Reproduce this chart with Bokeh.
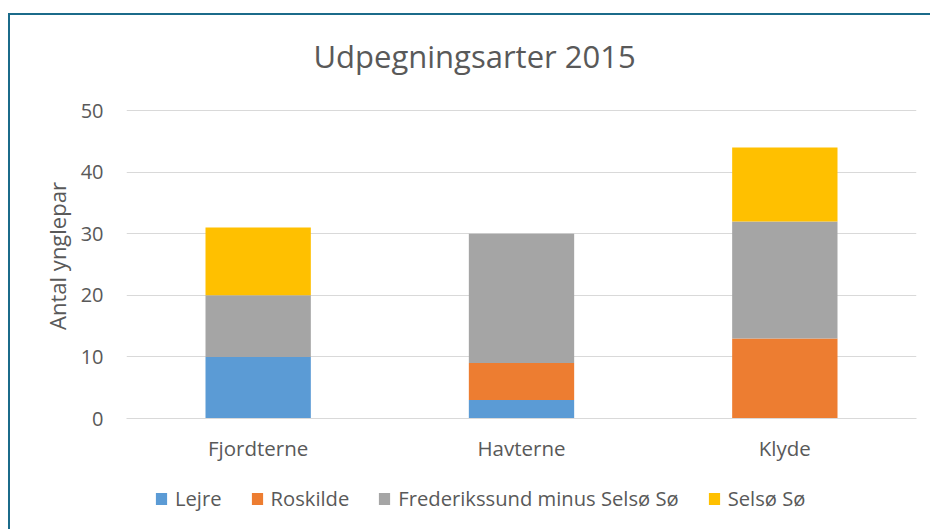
from bokeh.plotting import figure
from bokeh.layouts import column
from bokeh.models import ColumnDataSource, Legend, LegendItem, Range1d, FactorRange
from bokeh.embed import file_html
from bokeh.resources import INLINE

categories = ["Fjordterne", "Havterne", "Klyde"]
lejre = [10, 3, 0]
roskilde = [0, 6, 13]
frederikssund = [10, 21, 19]
selso = [11, 0, 12]
series_names = ["Lejre", "Roskilde", "Frederikssund minus Selsø Sø", "Selsø Sø"]
y_ticks = [0, 10, 20, 30, 40, 50]

colors = ["#5B9BD5", "#ED7D31", "#A5A5A5", "#FFC000"]
keys = ["lejre", "roskilde", "frederikssund", "selso"]
src = ColumnDataSource(dict(cat=categories, lejre=lejre, roskilde=roskilde,
                            frederikssund=frederikssund, selso=selso))

FONT = "Open Sans"
TXT = "#595959"
FRAME = "#1B6B8A"

# main chart
p = figure(x_range=categories, y_range=Range1d(0, 52.76), width=922, height=455,
           output_backend="svg", toolbar_location=None,
           min_border_left=116, min_border_right=16, min_border_top=78,
           min_border_bottom=52, margin=(13, 0, 0, 8),
           styles={"border-top": f"2px solid {FRAME}", "border-left": f"2px solid {FRAME}"})

p.title.text = "Udpegningsarter 2015"
p.title.align = "left"
p.title.offset = 187
p.title.text_font = FONT
p.title.text_font_size = "31px"
p.title.text_font_style = "normal"
p.title.text_color = TXT
p.title.standoff = 34

p.vbar_stack(keys, x="cat", width=0.4, color=colors, source=src, line_color=None)

p.outline_line_color = None
p.xgrid.grid_line_color = None
p.ygrid.grid_line_color = "#D9D9D9"
p.yaxis.ticker = y_ticks
p.yaxis.axis_line_color = None
p.yaxis.major_tick_line_color = None
p.yaxis.minor_tick_line_color = None
p.yaxis.major_tick_out = 0
p.yaxis.major_tick_in = 0
p.yaxis.major_label_standoff = 23
p.yaxis.major_label_text_font = FONT
p.yaxis.major_label_text_font_size = "20px"
p.yaxis.major_label_text_color = TXT
p.yaxis.axis_label = "Antal ynglepar"
p.yaxis.axis_label_text_font = FONT
p.yaxis.axis_label_text_font_size = "22px"
p.yaxis.axis_label_text_font_style = "normal"
p.yaxis.axis_label_text_color = TXT
p.yaxis.axis_label_standoff = 6

p.xaxis.axis_line_color = "#D9D9D9"
p.xaxis.major_tick_line_color = None
p.xaxis.minor_tick_line_color = None
p.xaxis.major_tick_out = 0
p.xaxis.major_tick_in = 0
p.xaxis.major_label_standoff = 15
p.xaxis.major_label_text_font = FONT
p.xaxis.major_label_text_font_size = "20.5px"
p.xaxis.major_label_text_color = TXT

# legend strip (same series as zero-width stacks outside the visible range; only the legend shows)
p2 = figure(width=922, height=61, output_backend="svg", toolbar_location=None,
            x_range=FactorRange(*categories), y_range=Range1d(-2, -1),
            x_axis_location=None, y_axis_location=None,
            min_border_left=0, min_border_right=0, min_border_top=0, min_border_bottom=0,
            margin=(0, 0, 0, 8), styles={"border-left": f"2px solid {FRAME}"})
p2.grid.visible = False
p2.outline_line_color = None
lrs = p2.vbar_stack(keys, x="cat", width=0, color=colors, source=src, line_color=None)

legend = Legend(items=[LegendItem(label=n, renderers=[r]) for n, r in zip(series_names, lrs)],
                orientation="horizontal", location=(28, 17), margin=0, padding=0,
                spacing=28, label_standoff=7, glyph_width=14, glyph_height=15,
                label_text_font=FONT, label_text_font_size="20.2px", label_text_color=TXT,
                background_fill_alpha=0, border_line_color=None)
p2.add_layout(legend)

open("out.html", "w").write(file_html(column(p, p2, spacing=0), INLINE))
